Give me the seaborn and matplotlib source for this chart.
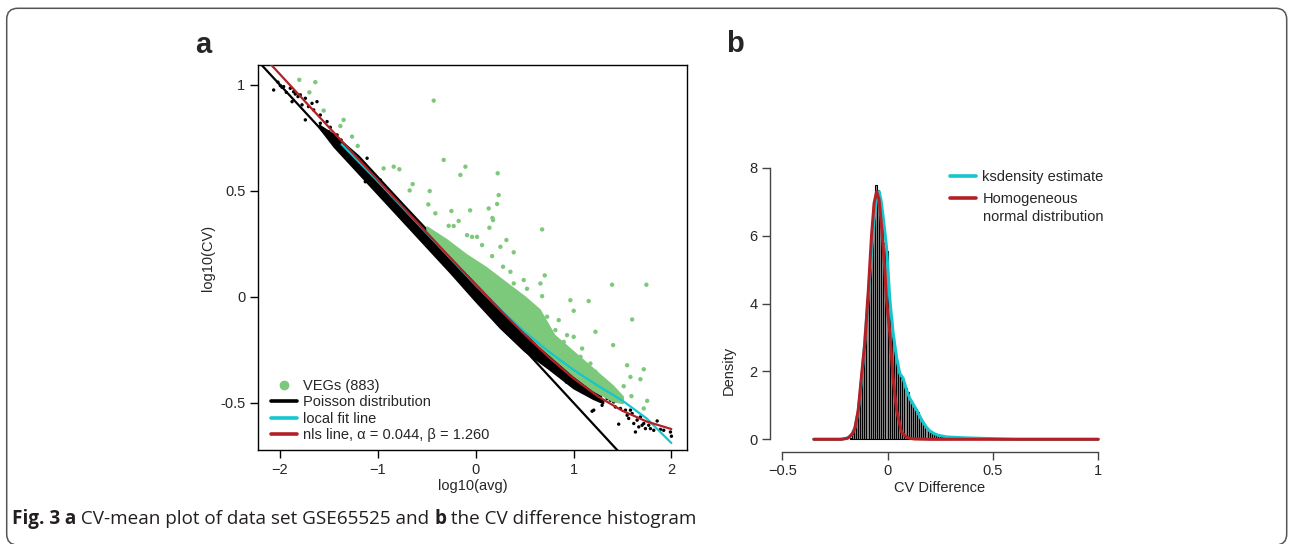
import numpy as np
import pandas as pd
import matplotlib
matplotlib.use("Agg")
import matplotlib.pyplot as plt
import seaborn as sns
from matplotlib.lines import Line2D
from matplotlib.patches import FancyBboxPatch

# ---------------- panel a: CV-mean plot ----------------
poisson_x = [-2.3, 1.5]
poisson_y = [1.15, -0.75]

nls_x = [-2.2, -2.0, -1.5, -1.0, -0.5, 0.0, 0.25, 0.5, 0.75, 1.0, 1.25, 1.5, 1.75, 2.0]
nls_y = [1.15, 1.05, 0.80, 0.551, 0.302, 0.058, -0.062, -0.177, -0.286, -0.385, -0.47, -0.538, -0.589, -0.624]

local_x = [-1.37, -1.0, -0.5, 0.0, 0.25, 0.5, 0.75, 1.0, 1.25, 1.5, 1.75, 2.0]
local_y = [0.72, 0.545, 0.30, 0.055, -0.06, -0.165, -0.26, -0.345, -0.42, -0.49, -0.575, -0.69]

# dense black cloud (edges of the band of non-variable genes)
band_x = [-1.6, -1.45, -1.2, -1.0, -0.75, -0.5, -0.25, 0.0, 0.25, 0.5, 0.75, 1.0, 1.2, 1.3]
band_lo = [0.80, 0.71, 0.585, 0.485, 0.36, 0.235, 0.11, -0.02, -0.145, -0.255, -0.34, -0.43, -0.48, -0.50]
band_hi = [0.81, 0.765, 0.665, 0.565, 0.44, 0.317, 0.195, 0.073, -0.047, -0.16, -0.265, -0.36, -0.43, -0.49]

# dense green cloud (VEGs just above the band)
green_x = [-0.5, -0.3, -0.1, 0.1, 0.3, 0.5, 0.65, 0.8, 1.0, 1.2, 1.4, 1.5]
green_lo = [0.317, 0.215, 0.12, 0.025, -0.07, -0.16, -0.23, -0.29, -0.37, -0.44, -0.49, -0.50]
green_hi = [0.33, 0.27, 0.20, 0.14, 0.07, 0.0, -0.06, -0.18, -0.26, -0.34, -0.42, -0.47]

black_px = [-2.065, -2.021, -1.936, -1.980, -1.861, -1.816, -1.793, -1.741, -1.741, -1.673,
            -1.622, -1.656, -1.588, -1.519, -1.503, -1.468, -1.417, -1.376, -1.877, -1.708,
            -1.775, -1.895, -1.844, -1.963, -1.997, -1.588, -1.486, -1.128, -1.110, -0.974,
            0.927, 1.190, 1.292, 1.428, 1.462, 1.582, 1.548, 1.650, 1.633, 1.701,
            1.735, 1.786, 1.855, 1.889, 1.991, 2.001, 1.599, 1.684, 1.531, 1.411,
            1.344, 1.275, 1.207, 1.139, 1.071, 1.002, 1.377, 1.480, 1.564, 1.718,
            1.769, 1.820, 1.922, 1.667, 1.616, 0.934, 1.207]
black_py = [0.976, 1.013, 0.965, 0.989, 0.968, 0.945, 0.953, 0.937, 0.835, 0.913,
            0.921, 0.882, 0.858, 0.827, 0.779, 0.756, 0.764, 0.740, 0.921, 0.898,
            0.906, 0.984, 0.957, 0.992, 0.997, 0.819, 0.800, 0.543, 0.654, 0.551,
            -0.402, -0.540, -0.512, -0.520, -0.601, -0.535, -0.559, -0.582, -0.638, -0.606,
            -0.622, -0.622, -0.586, -0.626, -0.638, -0.658, -0.551, -0.567, -0.535, -0.496,
            -0.480, -0.472, -0.441, -0.425, -0.409, -0.393, -0.488, -0.527, -0.574, -0.598,
            -0.606, -0.630, -0.630, -0.614, -0.598, -0.402, -0.535]

green_px = [-1.803, -1.639, -1.700, -1.554, -1.350, -1.383, -1.264, -1.206, -0.429, -0.941,
            -0.838, -0.780, -0.644, -0.675, -0.470, -0.484, -0.412, -0.327, -0.105, -0.156,
            -0.248, -0.057, 0.225, 0.235, 0.219, 0.171, 0.178, 0.133, -0.174, -0.225,
            -0.276, -0.088, -0.037, 0.014, 0.065, 0.140, 0.314, 0.389, 0.679, 0.706,
            0.662, 0.525, 0.491, 1.394, 1.745, 0.679, 0.253, 0.168, 0.280, 0.355,
            0.389, 0.321, 0.253,
            1.599, 1.224, 1.405, 1.548, 1.718, 1.582, 1.684, 1.513, 1.592, 1.753,
            1.718, 1.002, 1.155, 0.968, 0.849, 0.934, 1.002, 1.088, 1.173, 1.224,
            1.275, 1.344, 1.411, 1.462, 1.309, 0.730, 0.815, 0.900, 1.071, 1.122,
            1.037, 1.190]
green_py = [1.024, 1.013, 0.965, 0.879, 0.835, 0.806, 0.756, 0.712, 0.926, 0.606,
            0.614, 0.602, 0.532, 0.502, 0.499, 0.436, 0.394, 0.646, 0.614, 0.575,
            0.405, 0.408, 0.583, 0.480, 0.438, 0.372, 0.362, 0.417, 0.358, 0.334,
            0.335, 0.291, 0.283, 0.283, 0.244, 0.326, 0.268, 0.210, 0.318, 0.101,
            0.063, 0.038, 0.079, 0.057, 0.057, 0.003, 0.236, 0.192, 0.142, 0.118,
            0.063, 0.035, 0.063,
            -0.107, -0.165, -0.228, -0.323, -0.342, -0.378, -0.389, -0.422, -0.469, -0.491,
            -0.527, -0.066, -0.020, -0.016, -0.110, -0.181, -0.189, -0.244, -0.315, -0.354,
            -0.386, -0.425, -0.464, -0.472, -0.425, -0.094, -0.157, -0.213, -0.283, -0.331,
            -0.370, -0.393]

# ---------------- panel b: CV difference histogram ----------------
bin_edges = [round(-0.18 + 0.01 * i, 3) for i in range(49)]
bin_heights = [0.05, 0.15, 0.35, 0.65, 1.1, 1.7, 2.4, 3.2, 4.1, 5.0,
               6.0, 6.9, 7.49, 7.35, 6.9, 6.3, 5.77, 5.56, 4.18, 3.61,
               3.0, 2.6, 2.3, 2.0, 1.8, 1.7, 1.5, 1.4, 1.2, 1.05,
               0.95, 0.9, 0.8, 0.65, 0.5, 0.4, 0.32, 0.25, 0.2, 0.17,
               0.14, 0.12, 0.1, 0.08, 0.07, 0.06, 0.05, 0.04]

ks_x = [-0.35, -0.22, -0.19, -0.17, -0.155, -0.14, -0.125, -0.11, -0.095, -0.08, -0.065, -0.05,
        -0.04, -0.03, -0.021, -0.005, 0.011, 0.027, 0.043, 0.058, 0.074, 0.09, 0.106, 0.125,
        0.138, 0.155, 0.169, 0.185, 0.2, 0.22, 0.24, 0.28, 0.38, 0.5, 0.6, 1.0]
ks_y = [0.0, 0.0, 0.04, 0.14, 0.34, 0.8, 1.65, 2.7, 3.9, 5.2, 6.4, 7.2,
        7.3, 7.0, 6.56, 5.67, 4.1, 3.1, 2.4, 1.94, 1.8, 1.45, 1.2, 1.0,
        0.86, 0.65, 0.5, 0.35, 0.25, 0.17, 0.12, 0.07, 0.04, 0.02, 0.0, 0.0]

norm_x = [-0.35, -0.22, -0.19, -0.179, -0.165, -0.155, -0.139, -0.124, -0.108, -0.092, -0.076,
          -0.064, -0.052, -0.04, -0.028, -0.013, -0.005, 0.011, 0.027, 0.043, 0.066, 0.09,
          0.106, 0.13, 0.2, 1.0]
norm_y = [0.0, 0.0, 0.03, 0.08, 0.18, 0.32, 0.86, 1.84, 2.83, 4.3, 6.0,
          6.95, 7.3, 7.05, 6.26, 4.99, 4.1, 3.12, 1.75, 0.86, 0.22, 0.06,
          0.03, 0.01, 0.0, 0.0]

GREEN = "#7dc97b"
CYAN = "#16c6cf"
RED = "#b32126"

sns.set_style("white")
plt.rcParams["font.family"] = ["Liberation Sans", "DejaVu Sans"]
plt.rcParams["axes.unicode_minus"] = True

fig = plt.figure(figsize=(12.89, 5.44), dpi=100)
fs = 10.5

# ---------- a ----------
ax = fig.add_axes([258 / 1289, 94 / 544, 429 / 1289, 385 / 544])
ax.fill_between(band_x, band_lo, band_hi, color="black", lw=1.5, edgecolor="black", zorder=1)
sns.scatterplot(x=black_px, y=black_py, color="black", s=6, edgecolor="none", ax=ax, zorder=2)
ax.fill_between(green_x, green_lo, green_hi, color=GREEN, lw=1.5, edgecolor=GREEN, zorder=3)
sns.scatterplot(x=green_px, y=green_py, color=GREEN, s=10, edgecolor="none", ax=ax, zorder=3)
sns.lineplot(x=poisson_x, y=poisson_y, color="black", lw=1.6, ax=ax, zorder=4)
sns.lineplot(x=local_x, y=local_y, color=CYAN, lw=1.6, ax=ax, zorder=5, sort=False)
sns.lineplot(x=nls_x, y=nls_y, color=RED, lw=1.6, ax=ax, zorder=6, sort=False)

ax.set_xlim(-2.225, 2.16)
ax.set_ylim(-0.723, 1.094)
ax.set_xticks([-2, -1, 0, 1, 2])
ax.set_xticklabels(["\u22122", "\u22121", "0", "1", "2"])
ax.set_yticks([-0.5, 0, 0.5, 1])
ax.set_yticklabels(["-0.5", "0", "0.5", "1"])
for s in ax.spines.values():
    s.set_color("black")
    s.set_linewidth(1.0)
ax.tick_params(direction="out", length=6, width=1, labelsize=fs, pad=3,
               bottom=True, left=True, color="black")
ax.set_xlabel("log10(avg)", fontsize=fs, labelpad=2)
ax.set_ylabel("log10(CV)", fontsize=fs, labelpad=4)

handles = [Line2D([], [], marker="o", ls="", color=GREEN, ms=6),
           Line2D([], [], color="black", lw=2.6),
           Line2D([], [], color=CYAN, lw=2.6),
           Line2D([], [], color=RED, lw=2.6)]
labels = ["VEGs (883)", "Poisson distribution", "local fit line",
          "nls line, \u03b1 = 0.044, \u03b2 = 1.260"]
ax.legend(handles, labels, loc="upper left", bbox_to_anchor=(0.03, 0.185),
          frameon=False, fontsize=fs, handlelength=1.8, handletextpad=0.4,
          labelspacing=0.17, borderpad=0, borderaxespad=0)

# ---------- b ----------
bx = fig.add_axes([770 / 1289, 92.3 / 544, 340 / 1289, 301.7 / 544])
centers = [(bin_edges[i] + bin_edges[i + 1]) / 2 for i in range(len(bin_heights))]
hist_df = pd.DataFrame({"x": centers, "h": bin_heights})
sns.histplot(data=hist_df, x="x", weights="h", bins=bin_edges, stat="count",
             color="#9a9a9a", edgecolor="black", linewidth=0.8, alpha=1, ax=bx, zorder=1)
sns.lineplot(x=ks_x, y=ks_y, color=CYAN, lw=2.2, ax=bx, sort=False, zorder=2)
sns.lineplot(x=norm_x, y=norm_y, color=RED, lw=2.2, ax=bx, sort=False, zorder=3)
bx.set_xlim(-0.558, 1.056)
bx.set_ylim(-0.365, 8.522)
bx.set_xticks([-0.5, 0, 0.5, 1])
bx.set_xticklabels(["\u22120.5", "0", "0.5", "1"])
bx.set_yticks([0, 2, 4, 6, 8])
for side in ["top", "right"]:
    bx.spines[side].set_visible(False)
bx.spines["left"].set_bounds(0, 8)
bx.spines["bottom"].set_bounds(-0.5, 1)
for side in ["left", "bottom"]:
    bx.spines[side].set_color("#444444")
    bx.spines[side].set_linewidth(1.0)
bx.tick_params(direction="out", length=6, width=1, labelsize=fs, pad=3,
               bottom=True, left=True, color="#444444")
bx.set_xlabel("CV Difference", fontsize=fs, labelpad=2)
bx.set_ylabel("Density", fontsize=fs)
bx.yaxis.set_label_coords(-0.1, 0.27)

bhandles = [Line2D([], [], color=CYAN, lw=2.6), Line2D([], [], color=RED, lw=2.6)]
bx.legend(bhandles, ["ksdensity estimate", "Homogeneous"],
          loc="upper left", bbox_to_anchor=(0.53, 0.935), frameon=False, fontsize=fs,
          handlelength=1.8, handletextpad=0.4, labelspacing=0.6, borderpad=0,
          borderaxespad=0)
fig.text(983 / 1289, 1 - 216.7 / 544, "normal distribution", fontsize=fs, va="center")

# panel letters
fig.text(195 / 1289, 1 - 45 / 544, "a", fontsize=21, weight="bold", va="center")
fig.text(726 / 1289, 1 - 44 / 544, "b", fontsize=21, weight="bold", va="center")

# caption
cap_font = ["Liberation Sans Narrow", "Open Sans", "DejaVu Sans"]
parts = [("Fig. 3", "bold"), (" a", "bold"), (" CV-mean plot of data set GSE65525 and ", "normal"),
         ("b", "bold"), (" the CV difference histogram", "normal")]
renderer = fig.canvas.get_renderer()
xpix = 12
for txt, w in parts:
    t = fig.text(xpix / 1289, 1 - 519 / 544, txt, fontsize=13.6, weight=w, va="center",
                 family=cap_font, color="#231f20")
    xpix += t.get_window_extent(renderer).width

# rounded frame
frame = FancyBboxPatch((0.067, -0.01), 12.80, 5.367,
                       boxstyle="round,pad=0,rounding_size=0.11",
                       transform=fig.dpi_scale_trans, fill=False,
                       edgecolor="#555555", lw=1.1)
fig.patches.append(frame)

fig.savefig("out.png", dpi=100)
